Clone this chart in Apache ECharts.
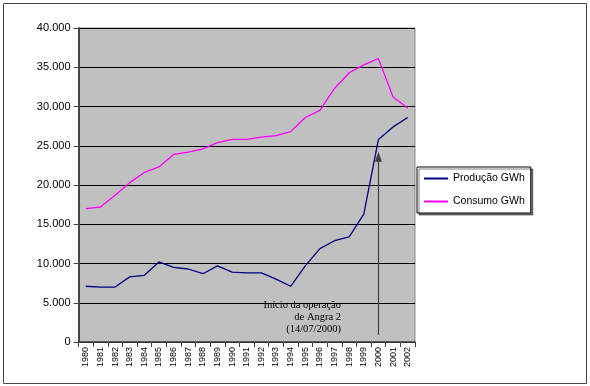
<!DOCTYPE html>
<html><head><meta charset="utf-8">
<script src="https://cdn.jsdelivr.net/npm/echarts@6/dist/echarts.min.js"></script>
<style>html,body{margin:0;padding:0;background:#fff}#c{width:590px;height:386px}</style>
</head><body><div id="c"></div>
<script>
const years = ['1980','1981','1982','1983','1984','1985','1986','1987','1988','1989','1990','1991','1992','1993','1994','1995','1996','1997','1998','1999','2000','2001','2002'];
const producao = [7100,7000,7000,8300,8500,10200,9500,9300,8700,9700,8900,8800,8800,8000,7100,9700,11900,12900,13400,16300,25800,27400,28600];
const consumo = [17000,17200,18700,20300,21600,22300,23900,24200,24600,25400,25800,25800,26100,26300,26800,28600,29500,32300,34300,35300,36100,31200,29800];
const yTicks = {min:0, max:40000, interval:5000};
const annotationLines = ['Início da operação','de Angra 2','(14/07/2000)'];
const arrowFrom = 900, arrowTo = 23600;

const chart = echarts.init(document.getElementById('c'), null, {renderer:'canvas'});
const fmt = v => v === 0 ? '0' : String(v).replace(/\B(?=(\d{3})+(?!\d))/g, '.');
chart.setOption({
  animation:false,
  grid:{left:78.5, top:28, right:175, bottom:44, show:true, backgroundColor:'#c0c0c0', borderColor:'#888', borderWidth:1},
  legend:{
    orient:'vertical', left:417, top:167, itemWidth:24, itemHeight:2, itemGap:12, icon:'rect',
    padding:[6,6,6,7], borderColor:'#000', borderWidth:1, backgroundColor:'#fff',
    shadowColor:'rgba(0,0,0,0.5)', shadowOffsetX:2, shadowOffsetY:2, shadowBlur:0,
    textStyle:{fontFamily:'Arial, Liberation Sans', fontSize:10.5, color:'#000'},
    data:['Produção GWh','Consumo GWh']
  },
  xAxis:{
    type:'category', data:years, boundaryGap:true,
    axisLine:{lineStyle:{color:'#444', width:1.5}},
    axisTick:{show:true, interval:0, length:5, lineStyle:{color:'#444'}},
    axisLabel:{interval:0, rotate:90, fontSize:9, fontFamily:'Arial, Liberation Sans', color:'#000', margin:5},
    splitLine:{show:false}
  },
  yAxis:{
    type:'value', min:yTicks.min, max:yTicks.max, interval:yTicks.interval,
    axisLine:{show:true, lineStyle:{color:'#444', width:2}},
    axisTick:{show:true, length:5, lineStyle:{color:'#444'}},
    axisLabel:{formatter:fmt, fontSize:11, fontFamily:'Arial, Liberation Sans', color:'#000', margin:8},
    splitLine:{show:true, lineStyle:{color:'#000', width:1}}
  },
  series:[
    {name:'Produção GWh', type:'line', data:producao, symbol:'none', lineStyle:{color:'#000080', width:1.3}, itemStyle:{color:'#000080'},
     markLine:{silent:true, symbol:['none','triangle'], symbolSize:[7,10], label:{show:false},
       lineStyle:{color:'#404040', width:1.2, type:'solid'},
       data:[[{coord:['2000', arrowFrom]},{coord:['2000', arrowTo]}]]}},
    {name:'Consumo GWh', type:'line', data:consumo, symbol:'none', lineStyle:{color:'#ff00ff', width:1.3}, itemStyle:{color:'#ff00ff'}}
  ],
  graphic:[
    {type:'rect', shape:{x:3.5, y:3.5, width:583, height:380}, style:{fill:'none', stroke:'#444', lineWidth:1}, silent:true},
    {type:'text', x:341, y:299, style:{text:annotationLines.join('\n'), font:'10.5px "Liberation Serif", "Times New Roman", serif', fill:'#000', align:'right', verticalAlign:'top', lineHeight:12}}
  ]
});
</script></body></html>
